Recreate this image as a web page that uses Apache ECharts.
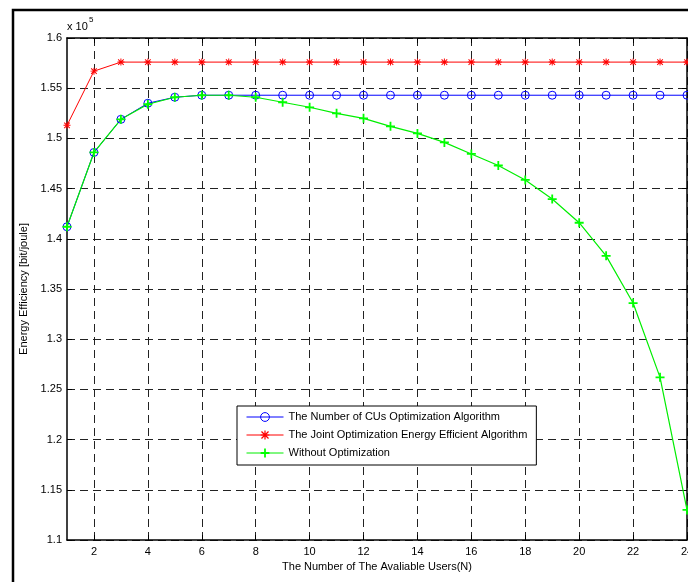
<!DOCTYPE html>
<html>
<head>
<meta charset="utf-8">
<script src="https://cdn.jsdelivr.net/npm/echarts@6/dist/echarts.min.js"></script>
<style>
  html, body { margin: 0; padding: 0; background: #fff; overflow: hidden; }
  #chart { width: 688px; height: 582px; }
</style>
</head>
<body>
<div id="chart"></div>
<script>
// number of available users N
const users = ['1', '2', '3', '4', '5', '6', '7', '8', '9', '10', '11', '12',
               '13', '14', '15', '16', '17', '18', '19', '20', '21', '22', '23', '24'];

// energy efficiency, in units of 1e5 bit/joule
const cuOpt = [1.412, 1.486, 1.519, 1.535, 1.541, 1.543, 1.543, 1.543, 1.543, 1.543, 1.543, 1.543,
               1.543, 1.543, 1.543, 1.543, 1.543, 1.543, 1.543, 1.543, 1.543, 1.543, 1.543, 1.543];
const jointOpt = [1.513, 1.567, 1.576, 1.576, 1.576, 1.576, 1.576, 1.576, 1.576, 1.576, 1.576, 1.576,
                  1.576, 1.576, 1.576, 1.576, 1.576, 1.576, 1.576, 1.576, 1.576, 1.576, 1.576, 1.576];
const noOpt = [1.412, 1.486, 1.519, 1.534, 1.541, 1.543, 1.543, 1.541, 1.536, 1.531, 1.525, 1.520,
               1.512, 1.505, 1.496, 1.4845, 1.473, 1.4586, 1.4396, 1.416, 1.383, 1.336, 1.262, 1.130];

const names = [
    'The Number of CUs Optimization Algorithm',
    'The Joint Optimization Energy Efficient Algorithm',
    'Without Optimization'
];

const font = "'Liberation Sans', Arial, sans-serif";

// matlab style markers
const plusPath = 'path://M4,0H6V10H4Z M0,4H10V6H0Z';
const starPath = 'path://M4.3,0H5.7V10H4.3Z M0,4.3H10V5.7H0Z M1.5,0.5L9.5,8.5L8.5,9.5L0.5,1.5Z M8.5,0.5L9.5,1.5L1.5,9.5L0.5,8.5Z';

const chart = echarts.init(document.getElementById('chart'));

const evenOnly = (i) => (i + 1) % 2 === 0;
const gridDash = { color: '#222', width: 1, type: [8, 5] };
const axisLine = { show: true, lineStyle: { color: '#000', width: 1.5 } };

chart.setOption({
    backgroundColor: '#fff',
    animation: false,
    textStyle: { fontFamily: font },
    grid: { left: 67, top: 38, width: 620, height: 502, containLabel: false, outerBoundsMode: 'none' },
    xAxis: [
        {
            type: 'category',
            data: users,
            boundaryGap: false,
            position: 'bottom',
            name: 'The Number of The Avaliable Users(N)',
            nameLocation: 'middle',
            nameGap: 21,
            nameTextStyle: { fontSize: 11, color: '#000', fontFamily: font },
            axisLine: axisLine,
            axisTick: { inside: true, length: 5, interval: evenOnly, lineStyle: { color: '#000' } },
            axisLabel: { interval: evenOnly, fontSize: 11, color: '#000', margin: 6, fontFamily: font },
            splitLine: { show: true, interval: evenOnly, lineStyle: gridDash }
        },
        {
            type: 'category',
            data: users,
            boundaryGap: false,
            position: 'top',
            axisLine: axisLine,
            axisTick: { inside: true, length: 5, interval: evenOnly, lineStyle: { color: '#000' } },
            axisLabel: { show: false },
            splitLine: { show: false }
        }
    ],
    yAxis: [
        {
            type: 'value',
            min: 1.1,
            max: 1.6,
            interval: 0.05,
            name: 'Energy Efficiency [bit/joule]',
            nameLocation: 'middle',
            nameGap: 34,
            nameTextStyle: { fontSize: 11, color: '#000', fontFamily: font },
            axisLine: axisLine,
            axisTick: { show: true, inside: true, length: 5, lineStyle: { color: '#000' } },
            axisLabel: { fontSize: 11, color: '#000', margin: 5, fontFamily: font },
            splitLine: { show: true, lineStyle: gridDash }
        },
        {
            type: 'value',
            min: 1.1,
            max: 1.6,
            interval: 0.05,
            position: 'right',
            axisLine: axisLine,
            axisTick: { show: true, inside: true, length: 5, lineStyle: { color: '#000' } },
            axisLabel: { show: false },
            splitLine: { show: false }
        }
    ],
    legend: {
        orient: 'vertical',
        left: 237,
        top: 406,
        backgroundColor: '#fff',
        borderColor: '#000',
        borderWidth: 1,
        borderRadius: 0,
        padding: [4, 9, 5, 9],
        itemWidth: 37,
        itemHeight: 11,
        itemGap: 4,
        itemTextGap: 5,
        lineStyle: { width: 1 },
        textStyle: { fontSize: 11, color: '#000', lineHeight: 14, fontFamily: font },
        data: [
            { name: names[0], itemStyle: { borderWidth: 1 } },
            names[1],
            names[2]
        ]
    },
    series: [
        {
            name: names[0],
            type: 'line',
            data: cuOpt,
            symbol: 'circle',
            symbolSize: 8,
            color: '#0000ff',
            lineStyle: { color: '#0000ff', width: 1 },
            itemStyle: { color: 'rgba(0,0,0,0)', borderColor: '#0000ff', borderWidth: 1 }
        },
        {
            name: names[1],
            type: 'line',
            data: jointOpt,
            symbol: starPath,
            symbolSize: 7,
            color: '#ff0000',
            lineStyle: { color: '#ff0000', width: 1 },
            itemStyle: { color: '#ff0000' }
        },
        {
            name: names[2],
            type: 'line',
            data: noOpt,
            symbol: plusPath,
            symbolSize: 9,
            color: '#00ff00',
            lineStyle: { color: '#00ee00', width: 1.2 },
            itemStyle: { color: '#00ff00' }
        }
    ],
    graphic: [
        {
            type: 'rect',
            shape: { x: 13, y: 10, width: 720, height: 620 },
            style: { fill: 'none', stroke: '#000', lineWidth: 2.5 },
            silent: true,
            z: -10
        },
        {
            type: 'text',
            left: 67,
            top: 21,
            style: { text: 'x 10', fontSize: 11, fill: '#000', fontFamily: font }
        },
        {
            type: 'text',
            left: 89,
            top: 16,
            style: { text: '5', fontSize: 8, fill: '#000', fontFamily: font }
        }
    ]
});
</script>
</body>
</html>
